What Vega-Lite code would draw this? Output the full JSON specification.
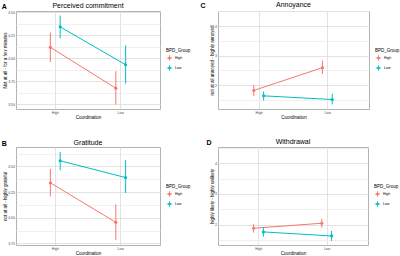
{
  "$schema": "https://vega.github.io/schema/vega-lite/v6.json",
  "padding": {"left": 1, "top": 0, "right": 0, "bottom": 0},
  "background": "white",
  "data": {"values": [
    {"panel": "A", "coord": "High", "group": "High", "mean": 4.12, "lo": 3.96, "hi": 4.28},
    {"panel": "A", "coord": "High", "group": "Low", "mean": 4.343, "lo": 4.217, "hi": 4.467},
    {"panel": "A", "coord": "Low", "group": "High", "mean": 3.674, "lo": 3.496, "hi": 3.859},
    {"panel": "A", "coord": "Low", "group": "Low", "mean": 3.93, "lo": 3.724, "hi": 4.141},
    {"panel": "B", "coord": "High", "group": "High", "mean": 4.34, "lo": 4.208, "hi": 4.474},
    {"panel": "B", "coord": "High", "group": "Low", "mean": 4.555, "lo": 4.462, "hi": 4.641},
    {"panel": "B", "coord": "Low", "group": "High", "mean": 3.955, "lo": 3.782, "hi": 4.128},
    {"panel": "B", "coord": "Low", "group": "Low", "mean": 4.391, "lo": 4.24, "hi": 4.561},
    {"panel": "C", "coord": "High", "group": "High", "mean": 1.818, "lo": 1.625, "hi": 2.0},
    {"panel": "C", "coord": "High", "group": "Low", "mean": 1.636, "lo": 1.477, "hi": 1.784},
    {"panel": "C", "coord": "Low", "group": "High", "mean": 2.591, "lo": 2.375, "hi": 2.83},
    {"panel": "C", "coord": "Low", "group": "Low", "mean": 1.511, "lo": 1.341, "hi": 1.705},
    {"panel": "D", "coord": "High", "group": "High", "mean": 1.88, "lo": 1.738, "hi": 2.01},
    {"panel": "D", "coord": "High", "group": "Low", "mean": 1.76, "lo": 1.607, "hi": 1.913},
    {"panel": "D", "coord": "Low", "group": "High", "mean": 2.044, "lo": 1.902, "hi": 2.186},
    {"panel": "D", "coord": "Low", "group": "Low", "mean": 1.629, "lo": 1.464, "hi": 1.792}
  ]},
  "vconcat": [
    {"hconcat": [
      {"title": {"text": "A", "anchor": "start", "fontWeight": "bold", "fontSize": 7, "dy": 5, "offset": -3},
       "vconcat": [{
        "width": 144, "height": 98,
        "title": "Perceived commitment",
        "transform": [{"filter": "datum.panel === 'A'"}],
        "encoding": {
          "x": {"field": "coord", "type": "nominal", "scale": {"type": "band", "paddingInner": 0.7, "paddingOuter": 0.45}, "axis": {"title": "Coordination"}},
          "xOffset": {"field": "group", "type": "nominal", "scale": {"paddingInner": 0, "paddingOuter": 0}},
          "color": {"field": "group", "type": "nominal", "scale": {"domain": ["High", "Low"], "range": ["#F8766D", "#00BFC4"]}, "legend": {"title": "BPD_Group"}}
        },
        "layer": [
          {"mark": {"type": "line", "strokeWidth": 1},
           "encoding": {"y": {"field": "mean", "type": "quantitative", "title": "Not at all - for a few minutes", "scale": {"domain": [3.447, 4.516], "nice": false, "zero": false},
             "axis": {"values": [3.5, 3.625, 3.75, 3.875, 4, 4.125, 4.25, 4.375, 4.5], "tickCount": 50, "labelOverlap": false,
               "labelExpr": "abs(datum.value*4 - round(datum.value*4)) < 0.001 ? format(datum.value, '.2f') : ''",
               "tickOpacity": {"condition": {"test": "abs(datum.value*4 - round(datum.value*4)) < 0.001", "value": 1}, "value": 0},
               "gridColor": {"condition": {"test": "abs(datum.value*4 - round(datum.value*4)) < 0.001", "value": "#dcdcdc"}, "value": "#ececec"}}}}},
          {"mark": {"type": "rule", "strokeWidth": 1},
           "encoding": {"y": {"field": "lo", "type": "quantitative", "title": "Not at all - for a few minutes"}, "y2": {"field": "hi"}}},
          {"mark": {"type": "point", "filled": true, "size": 10, "opacity": 1},
           "encoding": {"y": {"field": "mean", "type": "quantitative", "title": "Not at all - for a few minutes"}}}
        ]
      }],
       "resolve": {"scale": {"color": "independent"}, "legend": {"color": "independent"}}},
      {"title": {"text": "C", "anchor": "start", "fontWeight": "bold", "fontSize": 7, "dy": 5, "dx": -8, "offset": -3},
       "vconcat": [{
        "width": 151, "height": 98,
        "title": "Annoyance",
        "transform": [{"filter": "datum.panel === 'C'"}],
        "encoding": {
          "x": {"field": "coord", "type": "nominal", "scale": {"type": "band", "paddingInner": 0.7, "paddingOuter": 0.45}, "axis": {"title": "Coordination"}},
          "xOffset": {"field": "group", "type": "nominal", "scale": {"paddingInner": 0, "paddingOuter": 0}},
          "color": {"field": "group", "type": "nominal", "scale": {"domain": ["High", "Low"], "range": ["#F8766D", "#00BFC4"]}, "legend": {"title": "BPD_Group"}}
        },
        "layer": [
          {"mark": {"type": "line", "strokeWidth": 1},
           "encoding": {"y": {"field": "mean", "type": "quantitative", "title": "not at all annoyed - highly annoyed", "scale": {"domain": [1.19, 4.51], "nice": false, "zero": false},
             "axis": {"values": [1.5, 2, 2.5, 3, 3.5, 4, 4.5], "tickCount": 50, "labelOverlap": false,
               "labelExpr": "datum.value % 1 === 0 ? format(datum.value, 'd') : ''",
               "tickOpacity": {"condition": {"test": "datum.value % 1 === 0", "value": 1}, "value": 0},
               "gridColor": {"condition": {"test": "datum.value % 1 === 0", "value": "#dcdcdc"}, "value": "#ececec"}}}}},
          {"mark": {"type": "rule", "strokeWidth": 1},
           "encoding": {"y": {"field": "lo", "type": "quantitative", "title": "not at all annoyed - highly annoyed"}, "y2": {"field": "hi"}}},
          {"mark": {"type": "point", "filled": true, "size": 10, "opacity": 1},
           "encoding": {"y": {"field": "mean", "type": "quantitative", "title": "not at all annoyed - highly annoyed"}}}
        ]
      }],
       "resolve": {"scale": {"color": "independent"}, "legend": {"color": "independent"}}}
    ],
     "spacing": 8,
     "resolve": {"scale": {"color": "independent", "x": "independent", "y": "independent"}, "legend": {"color": "independent"}}},
    {"hconcat": [
      {"title": {"text": "B", "anchor": "start", "fontWeight": "bold", "fontSize": 7, "dy": 5, "offset": -3},
       "vconcat": [{
        "width": 144, "height": 98,
        "title": "Gratitude",
        "transform": [{"filter": "datum.panel === 'B'"}],
        "encoding": {
          "x": {"field": "coord", "type": "nominal", "scale": {"type": "band", "paddingInner": 0.7, "paddingOuter": 0.45}, "axis": {"title": "Coordination"}},
          "xOffset": {"field": "group", "type": "nominal", "scale": {"paddingInner": 0, "paddingOuter": 0}},
          "color": {"field": "group", "type": "nominal", "scale": {"domain": ["High", "Low"], "range": ["#F8766D", "#00BFC4"]}, "legend": {"title": "BPD_Group"}}
        },
        "layer": [
          {"mark": {"type": "line", "strokeWidth": 1},
           "encoding": {"y": {"field": "mean", "type": "quantitative", "title": "not at all - highly grateful", "scale": {"domain": [3.734, 4.689], "nice": false, "zero": false},
             "axis": {"values": [3.75, 3.875, 4, 4.125, 4.25, 4.375, 4.5, 4.625], "tickCount": 50, "labelOverlap": false,
               "labelExpr": "abs(datum.value*4 - round(datum.value*4)) < 0.001 ? format(datum.value, '.2f') : ''",
               "tickOpacity": {"condition": {"test": "abs(datum.value*4 - round(datum.value*4)) < 0.001", "value": 1}, "value": 0},
               "gridColor": {"condition": {"test": "abs(datum.value*4 - round(datum.value*4)) < 0.001", "value": "#dcdcdc"}, "value": "#ececec"}}}}},
          {"mark": {"type": "rule", "strokeWidth": 1},
           "encoding": {"y": {"field": "lo", "type": "quantitative", "title": "not at all - highly grateful"}, "y2": {"field": "hi"}}},
          {"mark": {"type": "point", "filled": true, "size": 10, "opacity": 1},
           "encoding": {"y": {"field": "mean", "type": "quantitative", "title": "not at all - highly grateful"}}}
        ]
      }],
       "resolve": {"scale": {"color": "independent"}, "legend": {"color": "independent"}}},
      {"title": {"text": "D", "anchor": "start", "fontWeight": "bold", "fontSize": 7, "dy": 5, "dx": -2, "offset": -3},
       "vconcat": [{
        "width": 150, "height": 98,
        "title": "Withdrawal",
        "transform": [{"filter": "datum.panel === 'D'"}],
        "encoding": {
          "x": {"field": "coord", "type": "nominal", "scale": {"type": "band", "paddingInner": 0.7, "paddingOuter": 0.45}, "axis": {"title": "Coordination"}},
          "xOffset": {"field": "group", "type": "nominal", "scale": {"paddingInner": 0, "paddingOuter": 0}},
          "color": {"field": "group", "type": "nominal", "scale": {"domain": ["High", "Low"], "range": ["#F8766D", "#00BFC4"]}, "legend": {"title": "BPD_Group"}}
        },
        "layer": [
          {"mark": {"type": "line", "strokeWidth": 1},
           "encoding": {"y": {"field": "mean", "type": "quantitative", "title": "highly likely - highly unlikely", "scale": {"domain": [1.333, 4.536], "nice": false, "zero": false},
             "axis": {"values": [1.5, 2, 2.5, 3, 3.5, 4, 4.5], "tickCount": 50, "labelOverlap": false,
               "labelExpr": "datum.value % 1 === 0 ? format(datum.value, 'd') : ''",
               "tickOpacity": {"condition": {"test": "datum.value % 1 === 0", "value": 1}, "value": 0},
               "gridColor": {"condition": {"test": "datum.value % 1 === 0", "value": "#dcdcdc"}, "value": "#ececec"}}}}},
          {"mark": {"type": "rule", "strokeWidth": 1},
           "encoding": {"y": {"field": "lo", "type": "quantitative", "title": "highly likely - highly unlikely"}, "y2": {"field": "hi"}}},
          {"mark": {"type": "point", "filled": true, "size": 10, "opacity": 1},
           "encoding": {"y": {"field": "mean", "type": "quantitative", "title": "highly likely - highly unlikely"}}}
        ]
      }],
       "resolve": {"scale": {"color": "independent"}, "legend": {"color": "independent"}}}
    ],
     "spacing": 14,
     "resolve": {"scale": {"color": "independent", "x": "independent", "y": "independent"}, "legend": {"color": "independent"}}}
  ],
  "spacing": 18,
  "resolve": {"scale": {"color": "independent", "x": "independent", "y": "independent"}, "legend": {"color": "independent"}},
  "config": {
    "font": "Liberation Sans",
    "view": {"stroke": "#b3b3b3", "strokeWidth": 1},
    "title": {"fontSize": 7, "fontWeight": "normal", "color": "#000000", "offset": 1},
    "axis": {"domain": false, "grid": true, "labelFontSize": 3.5, "labelColor": "#4d4d4d", "labelPadding": 0.5, "labelOverlap": false, "labelFlush": false, "tickColor": "#b3b3b3", "tickSize": 1, "tickWidth": 0.5,
      "titleFontSize": 4.5, "titleFontWeight": "normal", "titleColor": "#000000", "titlePadding": 0.5, "gridWidth": 0.8},
    "axisX": {"labelAngle": 0, "bandPosition": 0.5, "gridColor": "#dcdcdc", "grid": true, "labelPadding": 0},
    "legend": {"titleFontSize": 4.5, "titleFontWeight": "normal", "labelFontSize": 3.5, "labelColor": "#000000", "offset": 6, "rowPadding": 1, "titlePadding": 2, "symbolSize": 30, "labelOffset": 2,
      "symbolType": "M-1,0L1,0M0,-1L0,1M-0.4,0A0.4,0.4,0,1,0,0.4,0A0.4,0.4,0,1,0,-0.4,0Z", "symbolStrokeWidth": 0.8,
      "layout": {"right": {"anchor": "middle"}}}
  }
}
